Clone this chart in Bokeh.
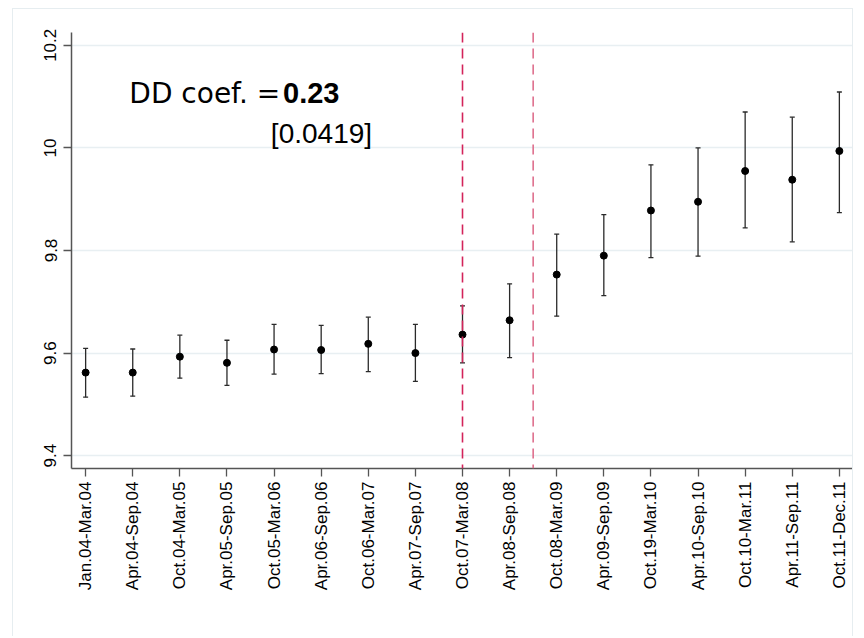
import math
from bokeh.plotting import figure
from bokeh.models import Range1d, FixedTicker, Span, Whisker, TeeHead, ColumnDataSource, Label
from bokeh.embed import file_html
from bokeh.resources import INLINE

periods = ["Jan.04-Mar.04", "Apr.04-Sep.04", "Oct.04-Mar.05", "Apr.05-Sep.05",
           "Oct.05-Mar.06", "Apr.06-Sep.06", "Oct.06-Mar.07", "Apr.07-Sep.07",
           "Oct.07-Mar.08", "Apr.08-Sep.08", "Oct.08-Mar.09", "Apr.09-Sep.09",
           "Oct.19-Mar.10", "Apr.10-Sep.10", "Oct.10-Mar.11", "Apr.11-Sep.11",
           "Oct.11-Dec.11"]
estimate = [9.562, 9.562, 9.593, 9.581, 9.607, 9.606, 9.618, 9.600, 9.636, 9.664,
            9.753, 9.790, 9.878, 9.895, 9.955, 9.938, 9.994]
ci_upper = [9.609, 9.608, 9.635, 9.625, 9.656, 9.654, 9.670, 9.656, 9.692, 9.735,
            9.832, 9.870, 9.967, 10.000, 10.070, 10.060, 10.109]
ci_lower = [9.514, 9.516, 9.551, 9.537, 9.559, 9.560, 9.564, 9.545, 9.581, 9.591,
            9.672, 9.712, 9.786, 9.789, 9.844, 9.817, 9.874]
y_ticks = [9.4, 9.6, 9.8, 10.0, 10.2]
y_tick_labels = ["9.4", "9.6", "9.8", "10", "10.2"]
event_lines = [9, 10.5]
dd_coef = "0.23"
dd_se = "[0.0419]"

xs = list(range(1, len(periods) + 1))
src = ColumnDataSource(dict(x=xs, est=estimate, up=ci_upper, lo=ci_lower))

p = figure(width=841, height=628, output_backend="svg", toolbar_location=None,
           x_range=Range1d(0.7, 17.3), y_range=Range1d(9.375, 10.225),
           min_border_left=58, min_border_top=23, min_border_right=1, min_border_bottom=169)
p.styles = {"border": "1px solid #e6edf0", "border-bottom": "none",
            "margin-left": "12px", "margin-top": "8px"}
p.outline_line_color = None
p.background_fill_color = "white"
p.border_fill_color = "white"

p.xgrid.visible = False
p.ygrid.ticker = FixedTicker(ticks=y_ticks)
p.ygrid.grid_line_color = "#e8eff2"
p.ygrid.grid_line_width = 1.6

for ax in (p.xaxis[0], p.yaxis[0]):
    ax.axis_line_color = "#555555"
    ax.axis_line_width = 1.5
    ax.major_tick_line_color = "#555555"
    ax.major_tick_line_width = 1.3
    ax.major_tick_out = 8
    ax.major_tick_in = 0
    ax.minor_tick_line_color = None
    ax.major_label_text_font = "Liberation Sans"
    ax.major_label_text_font_size = "17px"
    ax.major_label_text_color = "black"

p.xaxis.ticker = FixedTicker(ticks=xs)
p.xaxis.major_label_overrides = {x: lab for x, lab in zip(xs, periods)}
p.xaxis.major_label_orientation = math.pi / 2
p.xaxis.major_label_standoff = 5

p.yaxis.ticker = FixedTicker(ticks=y_ticks)
p.yaxis.major_label_overrides = {t: lab for t, lab in zip(y_ticks, y_tick_labels)}
p.yaxis.major_label_orientation = "vertical"
p.yaxis.major_label_standoff = 7

span_colors = ["#d3235a", "#de6f8d"]
for loc, col in zip(event_lines, span_colors):
    p.add_layout(Span(location=loc, dimension="height", line_color=col,
                      line_width=1.6, line_dash="10 6"))

p.add_layout(Whisker(source=src, base="x", upper="up", lower="lo",
                     line_color="#2a2a2a", line_width=1.3,
                     upper_head=TeeHead(size=5, line_color="#2a2a2a", line_width=1.3),
                     lower_head=TeeHead(size=5, line_color="#2a2a2a", line_width=1.3)))
p.scatter("x", "est", source=src, size=7, color="black")

p.add_layout(Label(x=5.13, y=10.107, text="DD coef. =", text_align="right",
                   text_baseline="alphabetic", text_font="DejaVu Sans",
                   text_font_size="28px", text_color="black"))
p.add_layout(Label(x=5.19, y=10.107, text=dd_coef, text_align="left",
                   text_baseline="alphabetic", text_font="Liberation Sans",
                   text_font_size="29px", text_font_style="bold", text_color="black"))
p.add_layout(Label(x=7.08, y=10.029, text=dd_se, text_align="right",
                   text_baseline="alphabetic", text_font="Liberation Sans",
                   text_font_size="28px", text_color="black"))

open("out.html", "w").write(file_html(p, INLINE))
